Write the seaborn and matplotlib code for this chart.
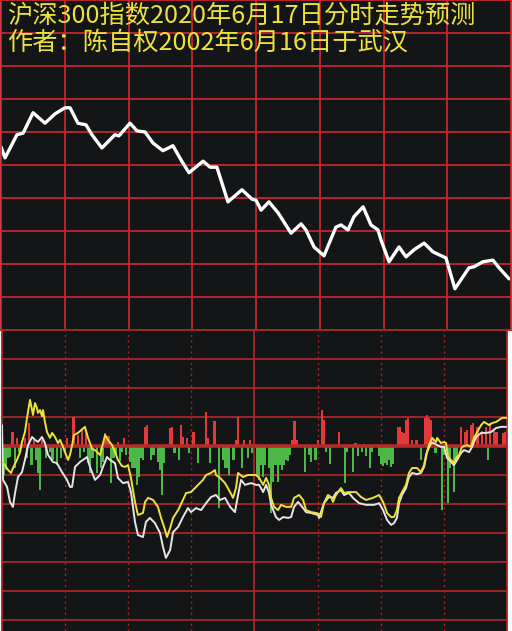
import numpy as np
import pandas as pd
import matplotlib
matplotlib.use("Agg")
import matplotlib.pyplot as plt
import seaborn as sns

sns.set_style("dark")
plt.rcParams["font.family"] = ["Noto Sans CJK SC", "DejaVu Sans"]

TITLE_1 = "沪深300指数2020年6月17日分时走势预测"
TITLE_2 = "作者：陈自权2002年6月16日于武汉"

# ── top panel: predicted intraday price curve (minutes from open) ───────────
price_min = [0, 1.9, 7.5, 10.4, 15.1, 20.7, 25.4, 30.1, 32.5, 36.2, 40.0, 42.8,
             47.5, 53.6, 55.5, 60.7, 64.0, 67.8, 71.5, 76.2, 80.9, 85.2, 88.5,
             95.1, 98.4, 101.6, 106.8, 113.4, 118.1, 120.0, 122.4, 126.1, 130.4,
             136.5, 141.2, 143.5, 147.3, 152.0, 157.6, 160.0, 163.3, 166.1, 170.4,
             174.1, 177.4, 178.8, 182.6, 187.3, 190.6, 194.4, 199.1, 203.3, 209.4,
             213.6, 220.2, 222.6, 226.8, 231.5, 234.4, 239.1]
price_val = [4103.3, 4101.3, 4105.5, 4105.8, 4109.5, 4107.6, 4109.3, 4110.4,
             4110.4, 4107.6, 4107.3, 4105.5, 4103.1, 4105.5, 4105.3, 4107.6,
             4106.2, 4106.0, 4104.0, 4102.6, 4103.5, 4100.6, 4098.6, 4100.7,
             4099.6, 4099.6, 4093.3, 4095.5, 4093.8, 4093.6, 4091.8, 4093.3,
             4091.3, 4087.6, 4089.3, 4088.2, 4085.1, 4083.5, 4088.7, 4089.1,
             4088.2, 4090.6, 4092.4, 4089.1, 4088.2, 4086.4, 4082.4, 4085.1,
             4083.3, 4084.6, 4085.8, 4084.2, 4083.1, 4077.5, 4081.3, 4081.5,
             4082.4, 4082.7, 4081.3, 4079.3]

# ── bottom panel: yellow / white indicator lines ─────────────────────────────
yellow_min = [0.0, 1.4, 2.9, 4.3, 5.2, 7.1, 8.6, 9.5, 10.9, 11.9, 13.3, 14.3, 14.7,
              15.7, 16.6, 17.1, 18.1, 19.0, 19.5, 20.4, 21.4, 22.8, 23.8, 25.2,
              26.6, 27.6, 29.0, 29.9, 31.4, 32.3, 33.3, 34.2, 36.1, 39.4, 40.9,
              42.8, 44.2, 46.6, 48.0, 49.0, 50.4, 52.3, 53.7, 55.1, 57.0, 58.5,
              59.9, 61.3, 63.2, 64.6, 67.0, 68.0, 69.4, 71.8, 74.1, 75.6, 77.5,
              78.4, 79.9, 81.3, 83.7, 86.0, 87.5, 89.8, 91.7, 93.2, 95.5, 97.0,
              99.3, 101.2, 101.7, 103.6, 106.0, 108.4, 109.8, 111.2, 112.2, 114.5,
              116.9, 120.7, 122.2, 124.1, 125.5, 126.9, 127.9, 129.3, 131.2, 132.6,
              135.0, 137.4, 138.8, 141.2, 143.1, 144.5, 146.9, 149.2, 150.7, 151.6,
              153.0, 154.9, 156.4, 157.3, 158.7, 161.1, 162.6, 164.5, 168.3, 170.6,
              173.0, 176.3, 179.2, 181.1, 183.0, 184.9, 186.3, 187.7, 188.7, 190.1,
              192.0, 193.4, 194.9, 197.2, 199.1, 200.6, 201.5, 202.9, 204.4, 206.3,
              206.8, 208.6, 210.1, 211.0, 212.0, 213.4, 214.8, 215.8, 217.2, 218.6,
              221.0, 222.9, 224.3, 225.8, 227.7, 229.1, 231.5, 232.9, 234.8, 236.3,
              237.7, 240.0]
yellow_val = [-5.5, -6.6, -8.3, -9.3, -7.6, -4.8, -2.1, 1.4, 4.8, 9.7, 15.9, 12.4,
              10.7, 14.8, 13.1, 11.4, 12.4, 10.3, 12.4, 8.3, 4.8, 2.8, 4.5, 3.1,
              1.0, 2.1, -0.3, -2.1, -4.8, -3.1, 0.3, 3.8, 4.5, 6.6, 2.8, -1.0,
              -1.4, -3.1, 1.0, 3.8, 2.1, 0.3, -2.1, -4.8, -6.9, -7.2, -6.6, -11.0,
              -19.3, -23.8, -23.1, -19.3, -17.9, -18.6, -21.0, -24.8, -29.0, -31.4,
              -28.3, -24.8, -22.1, -18.6, -16.2, -15.9, -14.5, -13.4, -11.7, -10.0,
              -9.3, -8.3, -10.0, -11.0, -12.8, -15.9, -17.9, -14.5, -9.3, -10.7,
              -10.0, -10.0, -11.0, -13.4, -11.0, -13.4, -17.9, -21.0, -22.1, -20.3,
              -21.0, -21.0, -17.9, -16.9, -18.6, -22.1, -22.8, -23.1, -23.4, -24.5,
              -19.7, -16.9, -17.6, -19.3, -16.9, -14.5, -16.2, -15.9, -15.9, -17.6,
              -18.6, -17.9, -16.9, -19.3, -23.1, -24.5, -24.5, -22.1, -17.9, -15.9,
              -13.4, -9.3, -7.6, -7.6, -9.0, -6.6, -3.1, 0.3, 2.8, 1.4, 2.8, 1.0,
              1.4, 1.0, -3.8, -4.8, -5.9, -4.1, -3.1, -0.3, 0.3, -0.3, 2.8, 4.8,
              7.2, 8.3, 7.2, 7.9, 8.3, 9.0, 9.7, 9.7]

white_min = [0.0, 0.5, 2.4, 3.8, 5.2, 6.2, 7.6, 9.5, 10.9, 12.4, 14.3, 15.7, 17.1,
             19.0, 20.4, 21.9, 24.2, 26.1, 28.5, 30.9, 32.3, 33.3, 34.7, 37.1,
             40.4, 41.8, 44.2, 46.6, 48.0, 49.9, 51.3, 53.7, 55.1, 57.5, 59.9,
             61.3, 63.2, 64.6, 67.0, 68.4, 70.3, 72.7, 75.1, 76.5, 77.9, 79.9,
             81.3, 83.7, 86.0, 88.4, 89.8, 92.2, 94.6, 97.0, 99.3, 101.7, 103.6,
             106.0, 108.4, 110.7, 112.2, 113.6, 115.5, 118.4, 120.7, 122.2, 124.1,
             125.5, 126.9, 127.9, 130.2, 131.7, 133.6, 135.9, 137.4, 138.8, 140.7,
             143.1, 144.5, 146.9, 150.2, 150.7, 153.0, 155.4, 157.3, 158.7, 161.1,
             162.6, 164.9, 166.8, 169.7, 173.0, 176.8, 179.2, 181.1, 183.0, 184.9,
             186.3, 187.7, 188.7, 190.1, 192.0, 193.4, 194.9, 197.2, 199.1, 200.6,
             202.0, 203.9, 205.3, 206.8, 208.6, 210.1, 211.5, 213.4, 214.8, 216.3,
             218.2, 219.6, 222.0, 223.4, 225.3, 227.7, 230.0, 232.4, 234.8, 237.2,
             239.6]
white_val = [7.2, -11.7, -14.1, -19.3, -21.0, -16.2, -10.7, -9.0, -4.8, 0.3, 3.1,
             2.1, 1.4, 3.1, 1.0, -3.1, -5.5, -5.9, -9.0, -11.7, -14.1, -14.1, -7.2,
             -5.5, -3.8, -7.2, -11.7, -10.0, -7.2, -3.8, -4.8, -5.9, -11.0, -12.8,
             -12.4, -15.9, -26.2, -30.7, -31.4, -26.2, -24.8, -26.6, -30.0, -34.8,
             -38.6, -35.9, -29.7, -27.9, -24.5, -21.4, -22.8, -21.4, -22.1, -19.7,
             -17.6, -16.9, -18.6, -17.9, -21.0, -22.8, -16.9, -11.7, -13.4, -12.8,
             -13.4, -13.4, -15.9, -13.4, -16.2, -20.3, -24.5, -25.5, -24.5, -24.8,
             -24.5, -21.0, -19.3, -21.4, -22.8, -23.1, -23.8, -24.8, -19.7, -17.6,
             -17.9, -16.2, -15.2, -16.9, -16.2, -17.9, -19.7, -20.3, -20.3, -19.7,
             -22.1, -25.5, -27.2, -26.6, -24.8, -19.7, -16.9, -14.5, -10.7, -9.3,
             -9.7, -9.3, -7.2, -2.1, 1.0, 1.0, 0.3, -0.3, -0.3, -4.1, -5.5, -6.6,
             -4.8, -2.4, -1.4, -2.1, -0.3, 3.1, 4.5, 4.5, 4.8, 6.2, 6.6, 6.6]

# ── bottom panel: red / green histogram bars ─────────────────────────────────
bar_min = [5, 7, 11, 13, 15, 19, 31, 34, 36, 38, 40, 49, 50, 51, 55, 58, 68, 69,
           80, 81, 85, 86, 88, 91, 97, 98, 101, 111, 112, 115, 118, 138, 139, 140,
           150, 152, 153, 160, 168, 172, 188, 189, 190, 191, 192, 193, 195, 197,
           201, 202, 203, 204, 205, 218, 220, 221, 223, 224, 226, 228, 230, 232,
           234, 235, 238, 239,
           1, 2, 3, 4, 6, 8, 12, 14, 16, 17, 18, 21, 23, 24, 26, 28, 30, 37, 39,
           41, 42, 43, 45, 47, 48, 52, 53, 54, 56, 57, 59, 61, 62, 63, 64, 65, 66,
           67, 71, 72, 74, 75, 76, 77, 82, 84, 89, 93, 99, 103, 105, 106, 107, 108,
           110, 114, 117, 119, 121, 122, 123, 124, 125, 127, 128, 129, 130, 131,
           132, 133, 134, 135, 136, 137, 144, 146, 147, 149, 154, 156, 163, 164,
           167, 169, 171, 173, 175, 176, 179, 180, 181, 182, 183, 184, 185, 186,
           199, 206, 209, 210, 212, 213, 215, 216, 231]
bar_val = [4.8, 2.8, 2.8, 7.9, 2.1, 2.1, 2.8, 10.0, 3.8, 5.5, 5.5, 4.5, 3.4, 3.4,
           1.4, 2.8, 6.6, 7.2, 6.2, 6.6, 7.2, 3.1, 2.8, 4.8, 11.7, 2.8, 8.6, 2.1,
           10.0, 2.1, 2.1, 2.1, 8.6, 2.1, 2.1, 12.4, 9.0, 4.8, 1.0, 0.7, 6.6, 6.6,
           4.8, 4.5, 9.0, 9.7, 2.1, 2.1, 9.7, 10.7, 9.7, 9.0, 2.4, 6.6, 4.8, 5.5,
           7.2, 7.9, 6.6, 5.2, 6.6, 7.9, 5.2, 4.8, 4.5, 4.8,
           -10.0, -8.3, -4.1, -3.8, -7.6, -2.1, -4.1, -6.6, -4.8, -9.3, -15.2,
           -4.1, -2.1, -4.8, -6.6, -4.1, -2.1, -4.1, -2.1, -5.9, -9.3, -4.1, -9.3,
           -7.6, -5.5, -12.8, -4.1, -3.1, -5.2, -2.1, -3.1, -5.5, -7.6, -7.6,
           -13.4, -10.7, -4.1, -4.8, -4.8, -3.1, -5.5, -8.3, -16.9, -5.9, -2.4,
           -4.8, -2.4, -5.9, -5.9, -21.4, -4.8, -7.6, -7.6, -10.0, -4.8, -7.6,
           -4.1, -2.4, -10.0, -11.7, -6.6, -10.7, -6.6, -7.6, -23.1, -12.4, -6.6,
           -12.4, -6.6, -8.3, -6.6, -4.8, -5.2, -3.1, -9.0, -3.1, -5.5, -4.8,
           -2.1, -6.2, -12.8, -2.1, -9.0, -3.4, -2.1, -3.4, -7.6, -2.1, -3.4,
           -6.2, -6.9, -5.9, -6.6, -4.8, -7.2, -6.2, -4.8, -2.4, -22.1, -3.1,
           -19.7, -7.6, -15.9, -4.1, -4.8]

BG = "#141517"
RED_TOP = "#c4262b"
RED_LOW = "#a8262a"
YELLOW = "#ece23c"

fig = plt.figure(figsize=(5.12, 6.31), dpi=100, facecolor="white")
W, H = 512, 631

# ── top panel ────────────────────────────────────────────────────────────────
ax1 = fig.add_axes([1 / W, (H - 330) / H, 510 / W, 330 / H])
ax1.set_facecolor(BG)
top = pd.DataFrame({"minute": price_min, "price": price_val})
sns.lineplot(data=top, x="minute", y="price", ax=ax1, color="white",
             linewidth=2.4, estimator=None, sort=False)
ax1.lines[-1].set_solid_joinstyle("round")
ax1.set_xlim(0, 240)
ax1.set_ylim(4070, 4130)
for v in np.arange(4076, 4130, 6):
    ax1.axhline(v, color=RED_TOP, lw=1.3, zorder=1)
for m in range(30, 240, 30):
    ax1.axvline(m, color=RED_TOP, lw=1.3, zorder=1)
for s in ax1.spines.values():
    s.set_visible(True)
    s.set_color(RED_TOP)
    s.set_linewidth(1.3)
ax1.set_xticks([])
ax1.set_yticks([])
ax1.set_xlabel("")
ax1.set_ylabel("")
ax1.grid(False)

# ── bottom panel ─────────────────────────────────────────────────────────────
ax2 = fig.add_axes([2 / W, 0, 505 / W, 301 / H])
ax2.set_facecolor(BG)
ax2.set_xlim(0, 240)
ax2.set_ylim(-63.8, 40)
for v in range(-60, 40, 10):
    if v != 0:
        ax2.axhline(v, color=RED_LOW, lw=1.3, zorder=1)
for m in [30, 60, 90, 150, 180, 210]:
    ax2.axvline(m, color=RED_LOW, lw=1.0, ls=(0, (1.5, 2.5)), zorder=1)
ax2.axvline(120, color=RED_LOW, lw=1.3, zorder=1)

bars = pd.DataFrame({"minute": bar_min, "value": bar_val})
colors = np.where(bars["value"] > 0, "#e23a3a", "#4cb848")
ax2.bar(bars["minute"], bars["value"], width=1.0, color=colors,
        edgecolor="none", linewidth=0, zorder=2)
ax2.axhline(0, color="#b72a2a", lw=2.6, zorder=3)

yl = pd.DataFrame({"minute": yellow_min, "value": yellow_val})
wl = pd.DataFrame({"minute": white_min, "value": white_val})
sns.lineplot(data=wl, x="minute", y="value", ax=ax2, color="#e6e6e6",
             linewidth=1.4, estimator=None, sort=False, zorder=4)
sns.lineplot(data=yl, x="minute", y="value", ax=ax2, color=YELLOW,
             linewidth=1.4, estimator=None, sort=False, zorder=5)

for name, s in ax2.spines.items():
    s.set_visible(name != "bottom")
    s.set_color(RED_LOW)
    s.set_linewidth(1.3)
ax2.set_xticks([])
ax2.set_yticks([])
ax2.set_xlabel("")
ax2.set_ylabel("")
ax2.grid(False)

# ── title text over the top grid (one block, tight line pitch) ───────────────
fig.text(7 / W, 1 - 3 / H, TITLE_1 + "\n" + TITLE_2, color=YELLOW,
         fontsize=18.2, va="top", ha="left", linespacing=1.02)

fig.savefig("out.png", dpi=100, facecolor="white")
